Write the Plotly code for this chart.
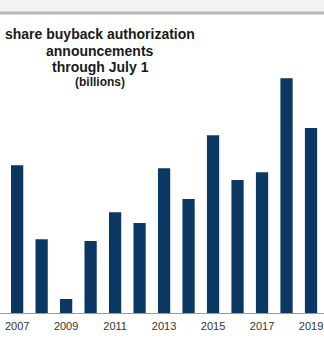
import plotly.graph_objects as go

years = [2007, 2008, 2009, 2010, 2011, 2012, 2013, 2014, 2015, 2016, 2017, 2018, 2019]
buybacks = [475, 237, 45, 231, 324, 289, 465, 366, 571, 427, 452, 754, 594]
tick_years = [2007, 2009, 2011, 2013, 2015, 2017, 2019]
tick_text = [str(y) for y in tick_years]

title_lines = ["share buyback authorization", "announcements", "through July 1"]
subtitle = "(billions)"

W, H = 324, 342
top, bottom = 64, 29
ph = H - top - bottom

def py(px):
    return (H - bottom - px) / ph

fig = go.Figure(go.Bar(x=years, y=buybacks, marker_color="#0b3763", width=0.5,
                       marker_line_width=0))

annos = []
for txt, yc in zip(title_lines, [34, 51, 67]):
    annos.append(dict(text=f"<b>{txt}</b>", x=100 / W, y=py(yc), xref="paper", yref="paper",
                      showarrow=False, xanchor="center", yanchor="middle",
                      font=dict(size=14, color="#1a1a1a", family="Arial, Liberation Sans")))
annos.append(dict(text=f"<b>{subtitle}</b>", x=100 / W, y=py(82), xref="paper", yref="paper",
                  showarrow=False, xanchor="center", yanchor="middle",
                  font=dict(size=12, color="#1a1a1a", family="Arial, Liberation Sans")))

fig.update_layout(
    width=W, height=H,
    margin=dict(l=0, r=0, t=top, b=bottom),
    paper_bgcolor="white", plot_bgcolor="white",
    showlegend=False,
    annotations=annos,
    shapes=[
        dict(type="rect", xref="paper", yref="paper", x0=0, x1=1, y0=py(11.5), y1=py(-1),
             fillcolor="#f2f2f2", line_width=0, layer="below"),
        dict(type="line", xref="paper", yref="paper", x0=0, x1=1, y0=py(13), y1=py(13),
             line=dict(color="#b8b8b8", width=3)),
    ],
    xaxis=dict(range=[2006.3, 2019.53], tickvals=tick_years, ticktext=tick_text,
               showgrid=False, zeroline=False, showline=True, linecolor="#9a9a9a", linewidth=1,
               ticks="outside", ticklen=3, tickcolor="rgba(0,0,0,0)",
               tickfont=dict(size=11, color="#333333", family="Arial, Liberation Sans")),
    yaxis=dict(range=[0, 800], visible=False, showgrid=False),
)

fig.write_html("out.html", config={"displayModeBar": False})
